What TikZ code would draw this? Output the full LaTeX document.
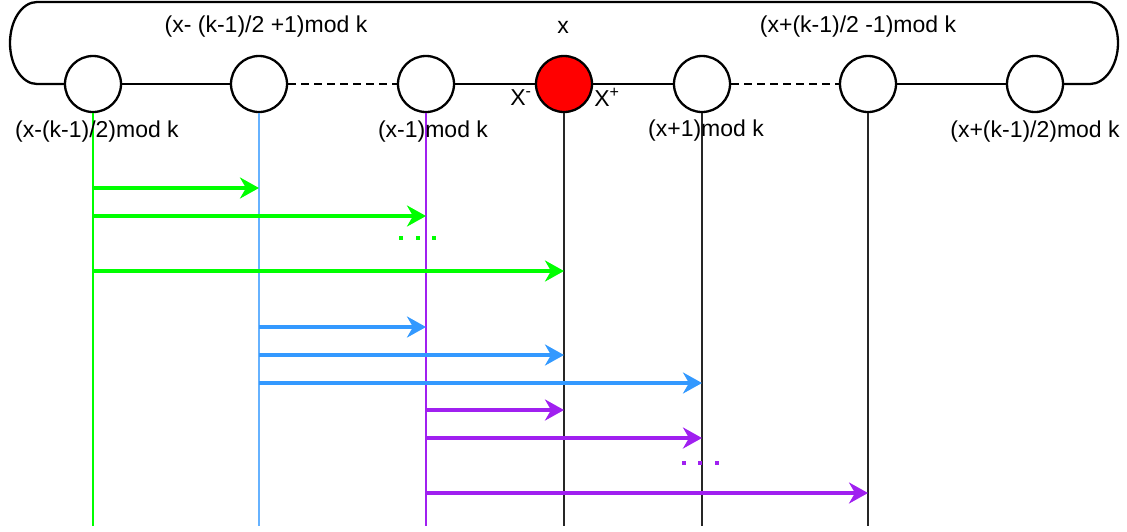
\documentclass[tikz,border=0pt]{standalone}
\usepackage{fontspec}
\setmainfont{Liberation Sans}
\usetikzlibrary{arrows.meta}
\definecolor{cgreen}{HTML}{00FF00}
\definecolor{cblue}{HTML}{3399FF}
\definecolor{cbluel}{HTML}{66B2FF}
\definecolor{cpurple}{HTML}{A020F0}
\definecolor{cred}{HTML}{FF0000}
\tikzset{
  ring/.style={line width=2.3pt, black},
  nodecirc/.style={circle, draw=black, line width=2.3pt, fill=white, minimum size=56pt, inner sep=0pt},
  lbl/.style={font=\fontsize{23}{27}\selectfont, inner sep=0pt},
  vline/.style={line width=1.2pt},
  arr/.style={line width=3.2pt, -{Stealth[length=19pt,width=21pt,inset=6pt]}},
  dotsq/.style={fill, minimum size=3.5pt, inner sep=0pt},
}
\begin{document}
\begin{tikzpicture}[x=1pt,y=-1pt]
\useasboundingbox (0,0) rectangle (1127,531);
% circles
\node[nodecirc] (c1) at (93,84) {};
\node[nodecirc] (c2) at (259,84) {};
\node[nodecirc] (c3) at (426,84) {};
\node[nodecirc, fill=cred] (c4) at (564,84) {};
\node[nodecirc] (c5) at (702,84) {};
\node[nodecirc] (c6) at (868,84) {};
\node[nodecirc] (c7) at (1035,84) {};
\coordinate (L) at (37,84);
\coordinate (R) at (1090,84);
% ring
\draw[ring] (c1.west) -- (L) .. controls (22.1,84) and (10,65.6) .. (10,43)
  .. controls (10,20.4) and (22.1,2) .. (37,2) -- (1090,2)
  .. controls (1104.9,2) and (1118,20.4) .. (1118,43)
  .. controls (1118,65.6) and (1104.9,84) .. (R) -- (c7.east);
\draw[ring] (c1.east) -- (c2.west);
\draw[ring, dash pattern=on 8pt off 5pt] (c2.east) -- (c3.west);
\draw[ring] (c3.east) -- (c4.west);
\draw[ring] (c4.east) -- (c5.west);
\draw[ring, dash pattern=on 8pt off 5pt] (c5.east) -- (c6.west);
\draw[ring] (c6.east) -- (c7.west);
% vertical lines
\coordinate (b1) at (93,526);
\coordinate (b2) at (259,526);
\coordinate (b3) at (426,526);
\coordinate (b4) at (564,526);
\coordinate (b5) at (702,526);
\coordinate (b6) at (868,526);
\draw[vline, cgreen] (c1.south) -- (b1);
\draw[vline, cbluel] (c2.south) -- (b2);
\draw[vline, cpurple] (c3.south) -- (b3);
\draw[vline, black!85] (c4.south) -- (b4);
\draw[vline, black!85] (c5.south) -- (b5);
\draw[vline, black!85] (c6.south) -- (b6);
% labels
\node[lbl] (t1) at (266,27) {(x- (k-1)/2 +1)mod k};
\node[lbl] (t2) at (563,27) {x};
\node[lbl] (t3) at (858,27) {(x+(k-1)/2 -1)mod k};
\node[lbl] (u1) at (97,132) {(x-(k-1)/2)mod k};
\node[lbl] (u3) at (433,132) {(x-1)mod k};
\node[lbl] (u5) at (706,131) {(x+1)mod k};
\node[lbl] (u7) at (1035,132) {(x+(k-1)/2)mod k};
\node[lbl] (xm) at (521,98) {X\textsuperscript{-}};
\node[lbl] (xp) at (607,97) {X\textsuperscript{+}};
% green arrows
\draw[arr, cgreen] (c1.south |- 0,188) -- (c2.south |- 0,188);
\draw[arr, cgreen] (c1.south |- 0,216) -- (c3.south |- 0,216);
\draw[arr, cgreen] (c1.south |- 0,271) -- (c4.south |- 0,271);
\node[dotsq, cgreen] (g1) at (401,238) {};
\node[dotsq, cgreen] (g2) at (418,238) {};
\node[dotsq, cgreen] (g3) at (434,238) {};
% blue arrows
\draw[arr, cblue] (c2.south |- 0,327) -- (c3.south |- 0,327);
\draw[arr, cblue] (c2.south |- 0,355) -- (c4.south |- 0,355);
\draw[arr, cblue] (c2.south |- 0,383) -- (c5.south |- 0,383);
% purple arrows
\draw[arr, cpurple] (c3.south |- 0,410) -- (c4.south |- 0,410);
\draw[arr, cpurple] (c3.south |- 0,438) -- (c5.south |- 0,438);
\draw[arr, cpurple] (c3.south |- 0,493) -- (c6.south |- 0,493);
\node[dotsq, cpurple] (p1) at (684,463) {};
\node[dotsq, cpurple] (p2) at (700,463) {};
\node[dotsq, cpurple] (p3) at (717,463) {};
\end{tikzpicture}
\end{document}
